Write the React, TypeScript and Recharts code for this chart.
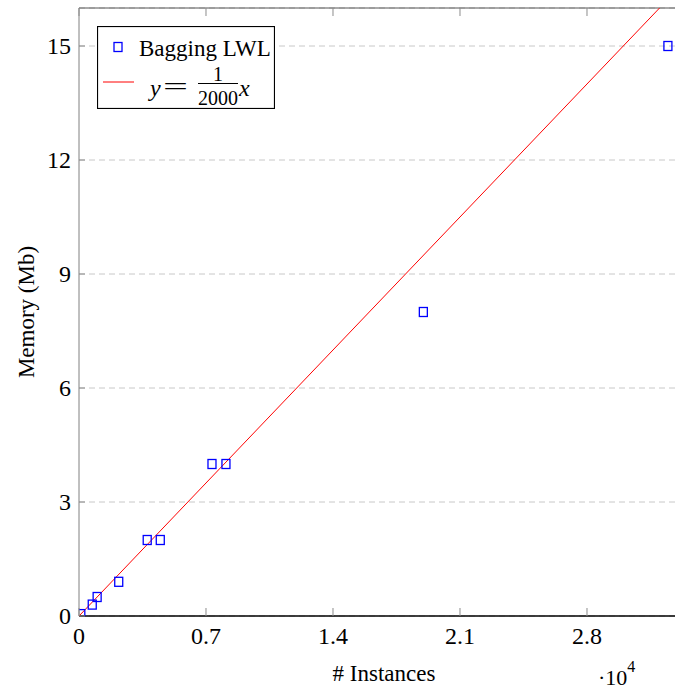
import { ScatterChart, Scatter, XAxis, YAxis, CartesianGrid } from 'recharts';

// instances in units of 10^4, memory in Mb
const instances = [0.01, 0.073, 0.1, 0.219, 0.376, 0.448, 0.733, 0.81, 1.898, 3.246];
const memory = [0.05, 0.3, 0.5, 0.9, 2, 2, 4, 4, 8, 15];

// y = x / 2000 (x in instances), drawn to the top of the plot
const fitX = [0, 3.2];
const fitY = [0, 16];

const xTicks = [0, 0.7, 1.4, 2.1, 2.8];
const yTicks = [0, 3, 6, 9, 12, 15];

const points = instances.map((x, i) => ({ x, y: memory[i] }));
const fitLine = fitX.map((x, i) => ({ x, y: fitY[i] }));

const FONT = '"Liberation Serif", "DejaVu Serif", serif';
const BLUE = '#0000ff';
const RED = '#ff0000';
const TICK_GRAY = '#8c8c8c';

const Square = (props: any) => {
  const { cx, cy } = props;
  if (cx == null || cy == null) return <g />;
  return <rect x={cx - 4} y={cy - 4.5} width={8} height={9} fill="none" stroke={BLUE} strokeWidth={1.3} />;
};

const NoShape = () => <g />;

// bottom: label below, inward tick line above the axis
const BottomTick = (props: any) => {
  const { x, y, payload } = props;
  const axisY = y - 7;
  return (
    <g>
      <line x1={x} x2={x} y1={axisY} y2={axisY - 8} stroke={TICK_GRAY} strokeWidth={1} />
      <text x={x} y={axisY + 28} fontSize={24} fontFamily={FONT} textAnchor="middle" fill="#000">
        {payload.value}
      </text>
    </g>
  );
};

const LeftTick = (props: any) => {
  const { x, y, payload } = props;
  const axisX = x + 8;
  return (
    <g>
      <line x1={axisX} x2={axisX + 6} y1={y} y2={y} stroke={TICK_GRAY} strokeWidth={1} />
      <text x={x} y={y + 8} fontSize={24} fontFamily={FONT} textAnchor="end" fill="#000">
        {payload.value}
      </text>
    </g>
  );
};

const TopTick = (props: any) => {
  const { x, y } = props;
  return <line x1={x} x2={x} y1={y} y2={y + 8} stroke={TICK_GRAY} strokeWidth={1} />;
};

function LegendBox() {
  return (
    <svg
      width={178}
      height={83}
      style={{ position: 'absolute', left: 97, top: 26, fontFamily: FONT }}
    >
      <rect x={0.5} y={0.5} width={177} height={82} fill="#fff" stroke="#000" strokeWidth={1.2} />
      <rect x={17} y={16.5} width={8} height={9} fill="none" stroke={BLUE} strokeWidth={1.3} />
      <text x={42} y={30} fontSize={23} fill="#000">Bagging LWL</text>
      <line x1={6} x2={37} y1={56} y2={56} stroke={RED} strokeWidth={1} />
      <text x={53} y={70} fontSize={24} fontStyle="italic" fill="#000">y</text>
      <text x={66} y={68} fontSize={24} fill="#000" textLength={25} lengthAdjust="spacingAndGlyphs">=</text>
      <line x1={101} x2={141} y1={57.5} y2={57.5} stroke="#000" strokeWidth={1} />
      <text x={121} y={55} fontSize={20} textAnchor="middle" fill="#000">1</text>
      <text x={121} y={79} fontSize={20} textAnchor="middle" fill="#000">2000</text>
      <text x={142} y={70} fontSize={24} fontStyle="italic" fill="#000">x</text>
    </svg>
  );
}

export default function App() {
  return (
    <div style={{ position: 'absolute', left: 0, top: 0, width: 675, height: 690, overflow: 'hidden', background: '#fff' }}>
      <ScatterChart width={690} height={690} margin={{ top: 7, right: 12.3, bottom: 73, left: 78 }}>
        <CartesianGrid
          xAxisId="b"
          yAxisId="l"
          vertical={false}
          stroke="#c8c8c8"
          strokeDasharray="6 4"
        />
        <XAxis
          xAxisId="b"
          type="number"
          dataKey="x"
          domain={[0, 3.3]}
          allowDataOverflow
          ticks={xTicks}
          height={1}
          tickSize={0}
          tickMargin={7}
          tickLine={false}
          axisLine={{ stroke: '#000', strokeWidth: 1.4 }}
          tick={BottomTick}
        />
        <XAxis
          xAxisId="t"
          orientation="top"
          type="number"
          dataKey="x"
          domain={[0, 3.3]}
          allowDataOverflow
          ticks={xTicks}
          height={1}
          tickSize={0}
          tickMargin={0}
          tickLine={false}
          axisLine={{ stroke: '#555' }}
          tick={TopTick}
        />
        <YAxis
          yAxisId="l"
          type="number"
          dataKey="y"
          domain={[0, 16]}
          allowDataOverflow
          ticks={yTicks}
          width={1}
          tickSize={0}
          tickMargin={8}
          tickLine={false}
          axisLine={{ stroke: '#808080' }}
          tick={LeftTick}
        />
        <Scatter
          xAxisId="b"
          yAxisId="l"
          data={fitLine}
          line={{ stroke: RED, strokeWidth: 1 }}
          shape={NoShape}
          isAnimationActive={false}
        />
        <Scatter
          xAxisId="b"
          yAxisId="l"
          data={points}
          shape={Square}
          isAnimationActive={false}
        />
      </ScatterChart>
      <LegendBox />
      <svg width={675} height={690} style={{ position: 'absolute', left: 0, top: 0, pointerEvents: 'none', fontFamily: FONT }}>
        <text x={26} y={312} fontSize={23} textAnchor="middle" dominantBaseline="central" transform="rotate(-90 26 312)" fill="#000">
          Memory (Mb)
        </text>
        <text x={384} y={681} fontSize={23} textAnchor="middle" fill="#000"># Instances</text>
        <text x={598} y={685} fontSize={22} fill="#000">
          ·10<tspan dy={-13} fontSize={16}>4</tspan>
        </text>
      </svg>
    </div>
  );
}
